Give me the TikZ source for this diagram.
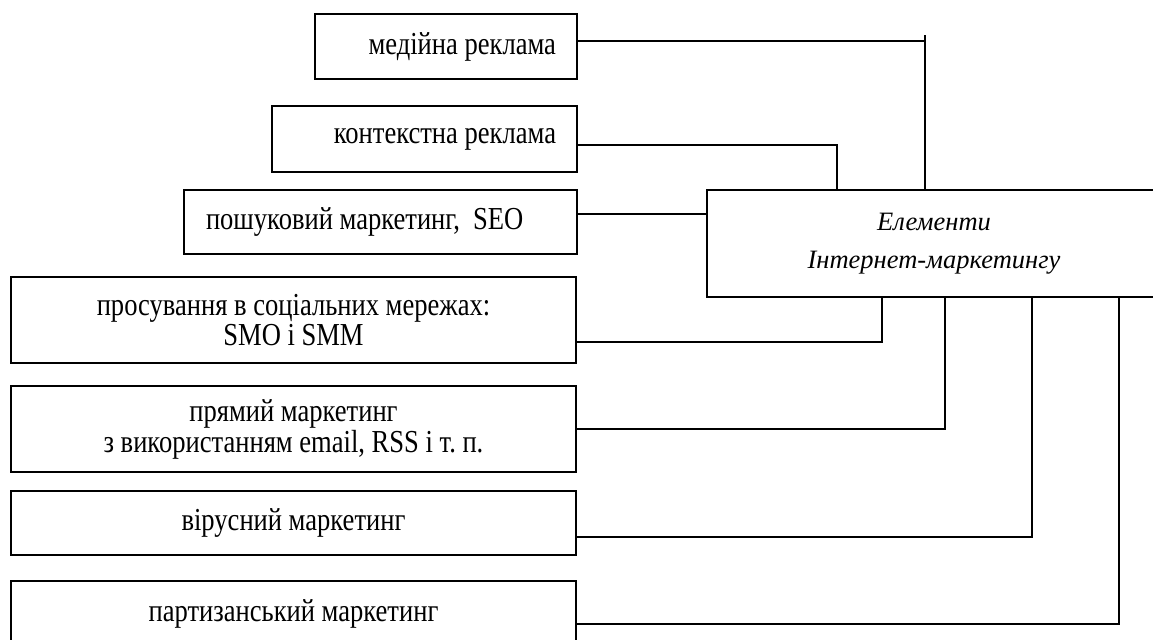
\documentclass[tikz,border=0pt]{standalone}
\usepackage{fontspec}
\setmainfont[FakeStretch=0.83]{Liberation Serif}
\newfontfamily\mainboxfont{Liberation Serif}

\begin{document}
\begin{tikzpicture}[x=0.5pt,y=-0.5pt,line width=0.9pt,
    box/.style={draw,line width=0.9pt,minimum height=32pt,inner ysep=2pt,
                font=\fontsize{16}{14}\selectfont,align=center},
    rbox/.style={box,align=flush right,inner xsep=10.5pt}]

    \useasboundingbox (0,0) rectangle (1153,639);
    \clip (0,0) rectangle (1153,639);

    \node[rbox,text width=110pt,minimum height=32.5pt] (media) at (446,46.5)
      {медійна реклама};
    \node[rbox,text width=131.5pt,minimum height=33pt] (context) at (424.5,139)
      {контекстна реклама};
    \node[box,align=flush left,inner xsep=11pt,text width=174.5pt] (seo) at (380.5,222)
      {пошуковий маркетинг, \ SEO};
    \node[box,minimum width=227pt,minimum height=53.5pt,
          font=\mainboxfont\fontsize{13.25}{19}\selectfont\itshape] (main) at (934,243.5)
      {Елементи\\Інтернет-маркетингу};
    \node[box,minimum width=282.5pt,minimum height=43pt] (smm) at (293.5,320)
      {просування в соціальних мережах:\\SMO і SMM};
    \node[box,minimum width=282.5pt,minimum height=43pt] (direct) at (293.5,429)
      {прямий маркетинг\\з використанням email, RSS і т.\ п.};
    \node[box,minimum width=282.5pt] (viral) at (293.5,523)
      {вірусний маркетинг};
    \node[box,minimum width=282.5pt,minimum height=32.5pt] (guerrilla) at (293.5,613.5)
      {партизанський маркетинг};

    \coordinate (mtick) at (925,35);
    \draw ([yshift=2.75pt]media.east) -| (mtick) -- (mtick |- main.north);
    \draw ([yshift=-3pt]context.east) -| ([xshift=65.5pt]main.north west);
    \draw ([yshift=4pt]seo.east) -- ([yshift=14.75pt]main.west);
    \draw ([yshift=-11pt]smm.east) -| ([xshift=88pt]main.south west);
    \draw (direct.east) -| ([xshift=119.5pt]main.south west);
    \draw ([yshift=-7pt]viral.east) -| ([xshift=163pt]main.south west);
    \draw ([yshift=-5.25pt]guerrilla.east) -| ([xshift=206.5pt]main.south west);
  \end{tikzpicture}
\end{document}
